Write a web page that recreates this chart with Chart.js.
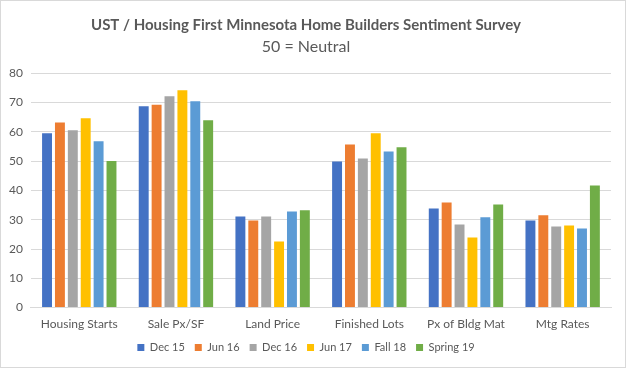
<!DOCTYPE html>
<html lang="en">
<head>
    <meta charset="UTF-8" />
    <title>Home Builders Sentiment Survey</title>
    <script src="https://cdn.jsdelivr.net/npm/chart.js"></script>
    <style>
        body {
            margin: 0;
            padding: 0;
            background: #fff;
        }
        .frame {
            box-sizing: border-box;
            width: 626px;
            height: 368px;
            border: 1px solid #d9d9d9;
        }
    </style>
</head>
<body>
    <div class="frame">
        <canvas id="myChart" width="624" height="366"></canvas>
    </div>

    <script>
        // categories and survey series
        const categories = ["Housing Starts", "Sale Px/SF", "Land Price", "Finished Lots", "Px of Bldg Mat", "Mtg Rates"];
        const dec15 = [59.5, 68.7, 31.1, 49.9, 33.8, 29.7];
        const jun16 = [63.2, 69.2, 29.7, 55.7, 35.9, 31.5];
        const dec16 = [60.5, 72.1, 31.1, 50.9, 28.4, 27.7];
        const jun17 = [64.6, 74.2, 22.6, 59.5, 23.9, 28.0];
        const fall18 = [56.8, 70.4, 32.8, 53.3, 30.8, 27.0];
        const spring19 = [50.0, 63.9, 33.2, 54.7, 35.2, 41.7];

        const seriesNames = ["Dec 15", "Jun 16", "Dec 16", "Jun 17", "Fall 18", "Spring 19"];
        const seriesData = [dec15, jun16, dec16, jun17, fall18, spring19];
        const colors = ["#4472C4", "#ED7D31", "#A5A5A5", "#FFC000", "#5B9BD5", "#70AD47"];

        const textColor = "#595959";

        const ctx = document.getElementById("myChart").getContext("2d");
        const myChart = new Chart(ctx, {
            type: "bar",
            data: {
                labels: categories,
                datasets: seriesNames.map((name, i) => ({
                    label: name,
                    data: seriesData[i],
                    backgroundColor: colors[i],
                    categoryPercentage: 0.8,
                    barPercentage: 0.77,
                })),
            },
            options: {
                responsive: false,
                animation: false,
                layout: {
                    padding: { left: 0, right: 14, top: 4, bottom: 4 },
                },
                plugins: {
                    title: {
                        display: true,
                        text: "UST / Housing First Minnesota Home Builders Sentiment Survey",
                        color: textColor,
                        font: { family: "Lato", size: 15, weight: "bold" },
                        padding: { top: 11, bottom: 3 },
                    },
                    subtitle: {
                        display: true,
                        text: "50 = Neutral",
                        color: textColor,
                        font: { family: "Lato", size: 16 },
                        padding: { bottom: 17 },
                    },
                    legend: {
                        position: "bottom",
                        labels: {
                            color: textColor,
                            font: { family: "Lato", size: 11 },
                            boxWidth: 7,
                            boxHeight: 7,
                            padding: 10,
                        },
                    },
                    tooltip: { enabled: false },
                },
                scales: {
                    x: {
                        grid: { display: false },
                        border: { color: "#d9d9d9" },
                        ticks: {
                            color: textColor,
                            font: { family: "Lato", size: 12 },
                            padding: 1,
                        },
                    },
                    y: {
                        min: 0,
                        max: 80,
                        ticks: {
                            stepSize: 10,
                            color: textColor,
                            font: { family: "Lato", size: 12 },
                            padding: 8,
                        },
                        grid: { color: "#d9d9d9", drawTicks: false },
                        border: { display: false },
                    },
                },
            },
        });
    </script>
</body>
</html>
